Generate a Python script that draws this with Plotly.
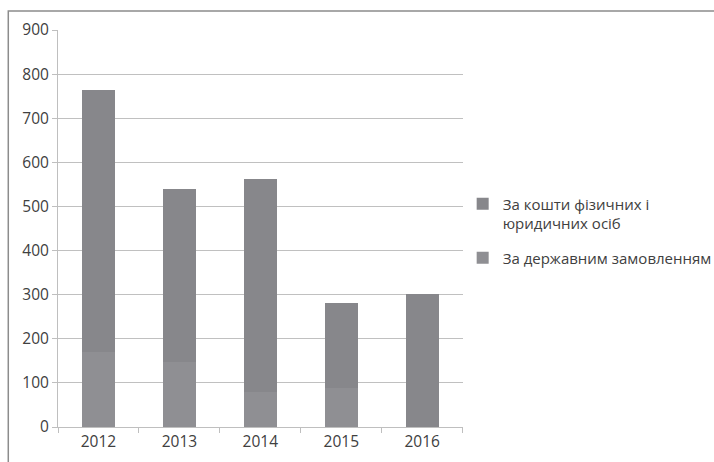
import plotly.graph_objects as go

years = ["2012", "2013", "2014", "2015", "2016"]
state_order = [170, 148, 80, 89, 0]
private_funds = [593, 392, 482, 191, 302]
series_names = ["За державним замовленням", "За кошти фізичних і<br>юридичних осіб"]
y_ticks = [0, 100, 200, 300, 400, 500, 600, 700, 800, 900]

fig = go.Figure()
fig.add_trace(go.Bar(x=years, y=state_order, name=series_names[0], legendgroup="a",
                     legendrank=2,
                     marker=dict(color="#8f8f93", line=dict(width=0))))
fig.add_trace(go.Bar(x=years, y=private_funds, name=series_names[1], legendgroup="b",
                     legendrank=1,
                     marker=dict(color="#87878b", line=dict(width=0))))

fig.update_layout(
    barmode="stack",
    bargap=0.59,
    width=714, height=462,
    margin=dict(l=58, r=249, t=30, b=35),
    plot_bgcolor="white", paper_bgcolor="white",
    font=dict(family="Open Sans", size=15, color="#404040"),
    showlegend=True,
    legend=dict(xref="container", yref="container", x=0.648, y=0.594,
                xanchor="left", yanchor="top", valign="top",
                traceorder="grouped", font=dict(size=15, color="#404040"),
                itemsizing="constant", tracegroupgap=12, itemwidth=30),
    xaxis=dict(type="category", tickson="boundaries", ticks="outside", ticklen=5,
               tickcolor="#bfbfbf", showgrid=False, showline=True,
               linecolor="#bfbfbf", linewidth=1, automargin=False,
               tickfont=dict(size=15.5)),
    yaxis=dict(range=[0, 900], tickvals=y_ticks, ticks="outside", ticklen=5,
               tickcolor="#bfbfbf", showgrid=True, gridcolor="#c0c0c0",
               showline=True, linecolor="#bfbfbf", linewidth=1, zeroline=False,
               automargin=False, tickfont=dict(size=15.5)),
    shapes=[dict(type="rect", xref="paper", yref="paper",
                 x0=-50/407, y0=-0.2, x1=1.8, y1=(427-11)/397,
                 line=dict(color="#8c8c8c", width=1.5), fillcolor="rgba(0,0,0,0)")],
)

fig.write_html("out.html", config={"displayModeBar": False},
               post_script="document.body.style.margin='0';document.body.style.padding='0';")
